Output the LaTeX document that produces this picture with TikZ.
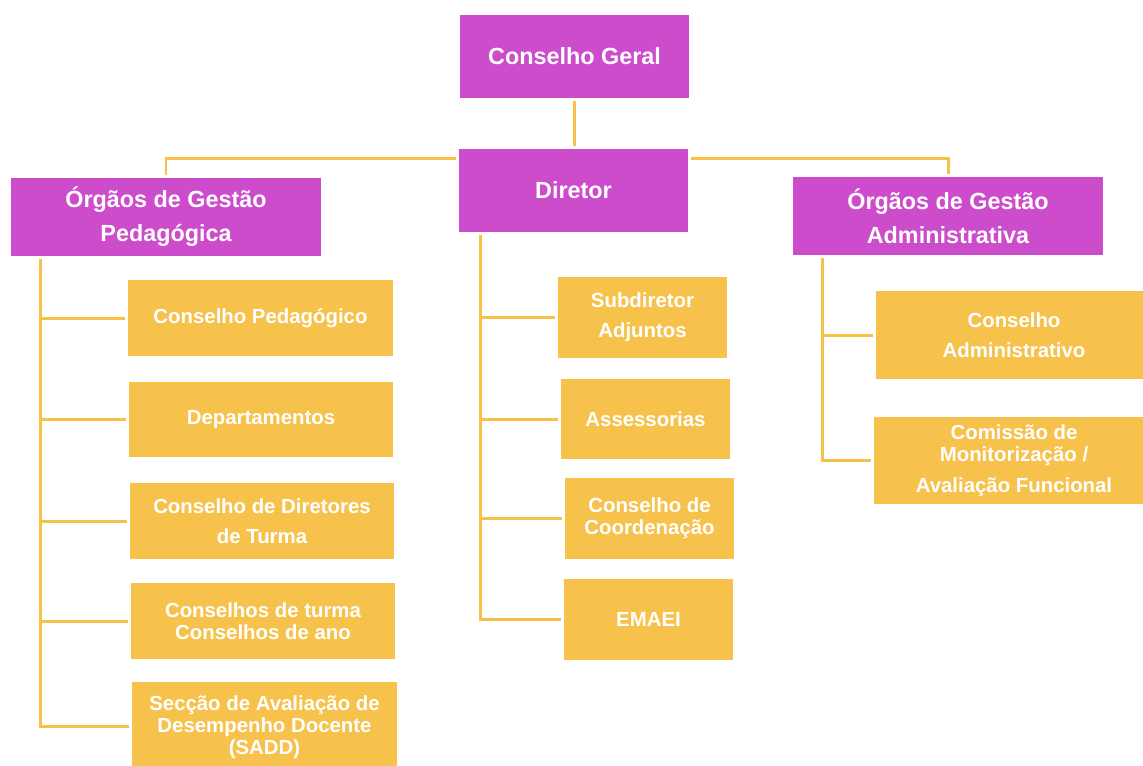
\documentclass[tikz,border=0pt]{standalone}
\usepackage{fontspec}
\setmainfont{Liberation Sans}
\usetikzlibrary{calc}
\definecolor{purp}{RGB}{204,76,204}
\definecolor{yel}{RGB}{247,194,76}
\definecolor{lin}{RGB}{247,192,72}
\begin{document}
\begin{tikzpicture}[x=0.02cm,y=-0.02cm,
 box/.style={inner sep=0pt, align=center, text=white},
 pbox/.style={box, fill=purp, font=\fontsize{13.3}{19.3}\selectfont\bfseries},
 ybox/.style={box, fill=yel, font=\fontsize{11.6}{17}\selectfont\bfseries},
 tight/.style={font=\fontsize{11.6}{12.5}\selectfont\bfseries},
 conn/.style={draw=lin, line width=1.7pt, shorten <=0.05cm, shorten >=0.05cm},
 branch/.style={conn, shorten <=0pt}]
\useasboundingbox (0,0) rectangle (1143,765);
% top level
\node[pbox, minimum width=4.58cm, minimum height=1.66cm] (cg) at (574.5,56.5) {Conselho Geral};
\node[pbox, minimum width=4.58cm, minimum height=1.66cm] (dir) at (573.5,190.5) {Diretor};
\node[pbox, minimum width=6.2cm, minimum height=1.56cm] (ogp) at (166,217) {Órgãos de Gestão\\Pedagógica};
\node[pbox, minimum width=6.2cm, minimum height=1.56cm] (oga) at (948,216) {Órgãos de Gestão\\Administrativa};
% left column
\node[ybox, minimum width=5.3cm, minimum height=1.52cm] (L1) at (260.5,318) {Conselho Pedagógico};
\node[ybox, minimum width=5.28cm, minimum height=1.5cm] (L2) at (261,419.5) {Departamentos};
\node[ybox, minimum width=5.28cm, minimum height=1.52cm] (L3) at (262,521) {Conselho de Diretores\\de Turma};
\node[ybox, tight, minimum width=5.28cm, minimum height=1.52cm] (L4) at (263,621) {Conselhos de turma\\Conselhos de ano};
\node[ybox, tight, minimum width=5.3cm, minimum height=1.84cm] (L5) at (264.5,727.5) {Secção de Avaliação de\\Desempenho Docente\\(SADD)};
% middle column
\node[ybox, minimum width=3.38cm, minimum height=1.62cm] (M1) at (642.5,317.5) {Subdiretor\\Adjuntos};
\node[ybox, minimum width=3.38cm, minimum height=1.6cm] (M2) at (645.5,419) {Assessorias};
\node[ybox, tight, minimum width=3.38cm, minimum height=1.62cm] (M3) at (649.5,518.5) {Conselho de\\Coordenação};
\node[ybox, minimum width=3.38cm, minimum height=1.62cm] (M4) at (648.5,619.5) {EMAEI};
% right column
\node[ybox, minimum width=5.52cm, minimum height=1.76cm] (R1) at (1014,335) {Conselho\\Administrativo};
\node[ybox, tight, minimum width=5.6cm, minimum height=1.74cm] (R2) at (1014,460.5) {Comissão de\\Monitorização /\\[5pt]Avaliação Funcional};
% connectors
\draw[conn] (cg.south) -- (cg.south |- dir.north);
\draw[conn] ($(dir.north west)+(0,10)$) -| (ogp.north);
\draw[conn] ($(dir.north east)+(0,10)$) -| (oga.north);
\coordinate (lt) at ($(ogp.south west)+(30,0)$);
\draw[conn] (lt) |- ($(L5.north west)+(0,45)$);
\foreach \n in {L1,L2,L3,L4} \draw[branch] (lt |- \n.west) -- (\n.west);
\coordinate (mt) at ($(dir.south west)+(22,0)$);
\draw[conn] (mt) |- (M4.west);
\foreach \n in {M1,M2,M3} \draw[branch] (mt |- \n.west) -- (\n.west);
\coordinate (rt) at ($(oga.south west)+(30,0)$);
\draw[conn] (rt) |- (R2.west);
\draw[branch] (rt |- R1.west) -- (R1.west);
\end{tikzpicture}
\end{document}
